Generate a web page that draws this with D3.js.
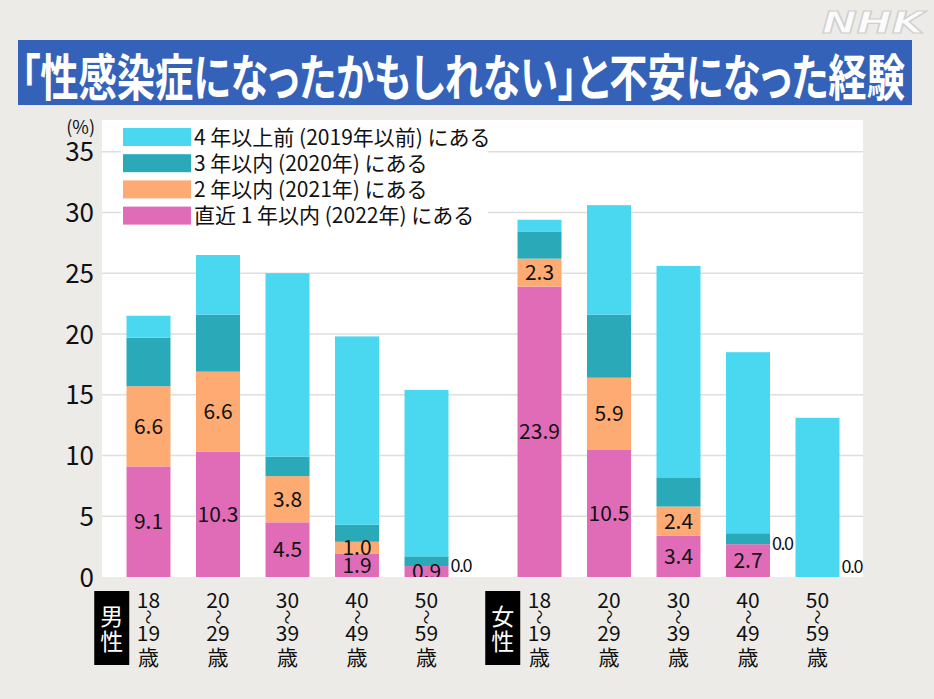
<!DOCTYPE html>
<html><head><meta charset="utf-8">
<script src="https://cdn.jsdelivr.net/npm/d3@7"></script>
<style>
html,body{margin:0;padding:0;background:#ecebe7;}
svg{display:block;font-family:"Noto Sans CJK JP","Noto Sans",sans-serif;}
.palt{font-feature-settings:"palt";}
</style></head>
<body>
<svg id="chart" width="934" height="699"></svg>
<script>
// ---- data ----
const ageGroups = ["18~19歳","20~29歳","30~39歳","40~49歳","50~59歳"];
const ageTop = ["18","20","30","40","50"];
const ageBottom = ["19","29","39","49","59"];
const genders = ["男性","女性"];
const seriesNames = ["直近 1 年以内 (2022年) にある","2 年以内 (2021年) にある","3 年以内 (2020年) にある","4 年以上前 (2019年以前) にある"];
// male
const maleRecent1 = [9.1, 10.3, 4.5, 1.9, 0.9];
const maleWithin2 = [6.6, 6.6, 3.8, 1.0, 0.0];
const maleWithin3 = [4.0, 4.7, 1.6, 1.4, 0.8];
const maleOver4   = [1.8, 4.9, 15.1, 15.5, 13.7];
// female
const femaleRecent1 = [23.9, 10.5, 3.4, 2.7, 0.0];
const femaleWithin2 = [2.3, 5.9, 2.4, 0.0, 0.0];
const femaleWithin3 = [2.2, 5.2, 2.4, 0.9, 0.0];
const femaleOver4   = [1.0, 9.0, 17.4, 14.9, 13.1];
const yTicks = [0,5,10,15,20,25,30,35];
const title = "「性感染症になったかもしれない」と不安になった経験";

// ---- styles ----
const colors = ["#e06cb8","#fdab73","#2aa9b8","#4ad7f0"];
const labelled = [true, true, false, false];

const svg = d3.select("#chart");
const plot = {left:102, right:863, top:120, bottom:577};

// title
svg.append("rect").attr("x",18).attr("y",40).attr("width",894).attr("height",65).attr("fill","#3562b9");
svg.append("text").attr("class","palt").attr("x",21).attr("y",74).attr("dominant-baseline","central")
  .attr("fill","#fff").attr("font-size",50).attr("font-weight",700)
  .attr("textLength",884).attr("lengthAdjust","spacingAndGlyphs").text(title);

// NHK logo
svg.append("text").attr("x",924).attr("y",33).attr("text-anchor","end")
  .attr("font-family","DejaVu Sans, sans-serif").attr("font-weight",700).attr("font-style","italic")
  .attr("font-size",31).attr("fill","#fbfbfb").attr("stroke","#cfcfcf").attr("stroke-width",1.2)
  .attr("textLength",102).attr("lengthAdjust","spacingAndGlyphs").text("NHK");

// plot background
svg.append("rect").attr("x",plot.left).attr("y",plot.top).attr("width",plot.right-plot.left)
  .attr("height",plot.bottom-plot.top).attr("fill","#fff");

const y = d3.scaleLinear().domain([0,35]).range([577,151.7]);

// gridlines
svg.append("g").selectAll("line").data(yTicks.filter(d=>d>0)).join("line")
  .attr("x1",plot.left).attr("x2",plot.right)
  .attr("y1",d=>y(d)).attr("y2",d=>y(d)).attr("stroke","#dedede").attr("stroke-width",1.5);

// y axis labels
const yAxis = d3.axisLeft(y).tickValues(yTicks).tickSize(0).tickPadding(0).tickFormat(d3.format("d"));
const ya = svg.append("g").attr("transform","translate(94,0)").call(yAxis);
ya.select(".domain").remove();
ya.selectAll("text").attr("font-size",26).attr("fill","#111").attr("font-family","Noto Sans CJK JP").attr("dy","0.35em");
svg.append("text").attr("x",95).attr("y",126).attr("text-anchor","end").attr("dominant-baseline","central")
  .attr("font-size",18).attr("fill","#111").text("(%)");

// scales per gender
const xMale = d3.scaleBand().domain(ageGroups).range([113.75,461.25]).paddingInner(0.367).paddingOuter(0.1835);
const xFemale = d3.scaleBand().domain(ageGroups).range([504.75,852.25]).paddingInner(0.367).paddingOuter(0.1835);

const groups = [
  {g:genders[0], x:xMale, series:[maleRecent1,maleWithin2,maleWithin3,maleOver4]},
  {g:genders[1], x:xFemale, series:[femaleRecent1,femaleWithin2,femaleWithin3,femaleOver4]}
];

svg.append("clipPath").attr("id","clip").append("rect")
  .attr("x",plot.left).attr("y",plot.top).attr("width",plot.right-plot.left).attr("height",plot.bottom-plot.top);

const barsG = svg.append("g");
const labelsG = svg.append("g").attr("clip-path","url(#clip)");
const zeroG = svg.append("g");

groups.forEach(gr => {
  const rows = ageGroups.map((a,i)=>{const o={age:a}; gr.series.forEach((s,k)=>o["s"+k]=s[i]); return o;});
  const stack = d3.stack().keys([0,1,2,3].map(k=>"s"+k))(rows);
  stack.forEach((layer,k)=>{
    barsG.selectAll(null).data(layer).join("rect")
      .attr("x",d=>gr.x(d.data.age)).attr("width",gr.x.bandwidth())
      .attr("y",d=>y(d[1])).attr("height",d=>y(d[0])-y(d[1]))
      .attr("fill",colors[k]);
    if(labelled[k]){
      layer.forEach((d,i)=>{
        const val = gr.series[k][i];
        if(val>0){
          labelsG.append("text").attr("x",gr.x(d.data.age)+gr.x.bandwidth()/2)
            .attr("y",y((d[0]+d[1])/2)).attr("dy","0.36em").attr("text-anchor","middle")
            .attr("font-size",21).attr("fill","#111").text(d3.format(".1f")(val));
        }
      });
    }
  });
  // zero-value label for the "2 years" series, right of bar
  ageGroups.forEach((a,i)=>{
    if(gr.series[1][i]===0){
      const yy = Math.min(y(gr.series[0][i]), 567);
      zeroG.append("text").attr("x",gr.x(a)+gr.x.bandwidth()+2).attr("y",yy).attr("dy","0.35em")
        .attr("font-size",18).attr("fill","#111").attr("letter-spacing",-1.5)
        .attr("font-family","Noto Sans CJK JP").text("0.0");
    }
  });
  // x labels
  ageGroups.forEach((a,i)=>{
    const cx = gr.x(a)+gr.x.bandwidth()/2;
    const t = svg.append("g").attr("transform",`translate(${cx},0)`);
    t.append("text").attr("y",600).attr("dy","0.36em").attr("text-anchor","middle").attr("font-size",21).attr("fill","#111").text(ageTop[i]);
    t.append("text").attr("transform","translate(0,617) rotate(90)").attr("dy","0.36em").attr("text-anchor","middle").attr("font-size",15).attr("fill","#111").text("〜");
    t.append("text").attr("y",633).attr("dy","0.36em").attr("text-anchor","middle").attr("font-size",21).attr("fill","#111").text(ageBottom[i]);
    t.append("text").attr("y",657).attr("dy","0.36em").attr("text-anchor","middle").attr("font-size",21).attr("fill","#111").text("歳");
  });
  // gender box
  const bx = gr.x.range()[0]-19.5;
  svg.append("rect").attr("x",bx).attr("y",591).attr("width",35).attr("height",74).attr("fill","#000");
  svg.append("text").attr("x",bx+17.5).attr("y",615).attr("dominant-baseline","central").attr("text-anchor","middle")
    .attr("font-size",23).attr("fill","#fff").text(gr.g[0]);
  svg.append("text").attr("x",bx+17.5).attr("y",640).attr("dominant-baseline","central").attr("text-anchor","middle")
    .attr("font-size",23).attr("fill","#fff").text(gr.g[1]);
});

// legend
const lg = svg.append("g");
lg.append("rect").attr("x",121).attr("y",123).attr("width",367).attr("height",105).attr("fill","#fff");
const legendOrder = [3,2,1,0];
legendOrder.forEach((k,j)=>{
  const cy = 137 + j*26.2;
  lg.append("rect").attr("x",123).attr("y",cy-9).attr("width",68).attr("height",18).attr("fill",colors[k]);
  lg.append("text").attr("x",194).attr("y",cy).attr("dy","0.36em").attr("font-size",21).attr("fill","#111").text(seriesNames[k]);
});
</script>
</body></html>
